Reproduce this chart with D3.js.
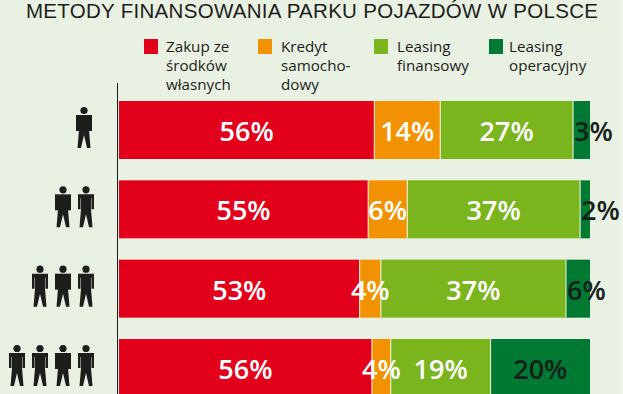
<!DOCTYPE html>
<html lang="pl">
<head>
<meta charset="utf-8">
<title>Metody finansowania parku pojazdów w Polsce</title>
<script src="https://cdn.jsdelivr.net/npm/d3@7"></script>
<style>
html, body { margin: 0; padding: 0; background: #e8f1e2; overflow: hidden; }
svg { display: block; }
</style>
</head>
<body>
<script>
var w = 623, h = 394;

var titleText = "METODY FINANSOWANIA PARKU POJAZDÓW W POLSCE";
var seriesNames = [
    ["Zakup ze", "środków", "własnych"],
    ["Kredyt", "samocho-", "dowy"],
    ["Leasing", "finansowy"],
    ["Leasing", "operacyjny"]
];
var colors = ["#e2001a", "#f39200", "#7ab51d", "#007a33"];
var labelColors = ["#fff", "#fff", "#fff", "#16211c"];

// rows = fleet size shown by the figures (1 = wide jacket, 0 = arms apart)
var rows = ["r1", "r2", "r3", "r4"];
var figures = [[1], [1, 0], [0, 1, 0], [0, 0, 1, 0]];

// bar lengths as measured in the picture (the print is not exactly to scale)
var zakup = [54.2, 52.9, 51.1, 53.7];
var kredyt = [14.0, 8.3, 4.5, 4.0];
var finansowy = [28.2, 36.7, 39.3, 21.2];
var operacyjny = [3.6, 2.1, 5.1, 21.1];

// printed values
var zakupLabels = ["56%", "55%", "53%", "56%"];
var kredytLabels = ["14%", "6%", "4%", "4%"];
var finansowyLabels = ["27%", "37%", "37%", "19%"];
var operacyjnyLabels = ["3%", "2%", "6%", "20%"];

var series = [zakup, kredyt, finansowy, operacyjny];
var labels = [zakupLabels, kredytLabels, finansowyLabels, operacyjnyLabels];

var svg = d3.select("body").append("svg")
    .attr("width", w)
    .attr("height", h);

svg.append("rect").attr("width", w).attr("height", h).attr("fill", "#e8f1e2");
svg.append("rect").attr("x", 619).attr("width", 4).attr("height", h).attr("fill", "#eef5ea");

var xScale = d3.scaleLinear().domain([0, 100]).range([119, 590]);
var yScale = d3.scaleBand().domain(rows).range([101, 397]).paddingInner(0.269);

// title
svg.append("text")
    .attr("x", 26)
    .attr("y", 18)
    .attr("font-family", "Liberation Sans")
    .attr("font-size", 20.5)
    .attr("textLength", 572)
    .attr("fill", "#1d1d1b")
    .text(titleText);

// legend
var legendX = [144, 258, 374, 489];
var legendTextX = [166, 281, 397, 509];

var legend = svg.selectAll(".legend")
    .data(seriesNames)
    .enter()
    .append("g")
    .attr("class", "legend");

legend.append("rect")
    .attr("x", function(d, i) { return legendX[i]; })
    .attr("y", 39)
    .attr("width", 14)
    .attr("height", 15)
    .attr("fill", function(d, i) { return colors[i]; });

legend.each(function(d, i) {
    d3.select(this).selectAll("text")
        .data(d)
        .enter()
        .append("text")
        .attr("x", legendTextX[i])
        .attr("y", function(t, j) { return 52 + j * 19; })
        .attr("font-family", "Open Sans")
        .attr("font-size", 15.2)
        .attr("fill", "#1d1d1b")
        .text(function(t) { return t; });
});

// bars
rows.forEach(function(row, r) {
    var sum = 0;
    series.forEach(function(s, k) {
        var x0 = sum;
        sum += s[r];
        svg.append("rect")
            .attr("x", xScale(x0))
            .attr("y", yScale(row))
            .attr("width", xScale(sum) - xScale(x0))
            .attr("height", yScale.bandwidth())
            .attr("fill", colors[k]);
        if (k > 0) {
            svg.append("line")
                .attr("x1", xScale(x0))
                .attr("x2", xScale(x0))
                .attr("y1", yScale(row))
                .attr("y2", yScale(row) + yScale.bandwidth())
                .attr("stroke", "#f4f8ef")
                .attr("stroke-width", 1);
        }
    });
});

// value labels, drawn after all bars because they overlap neighbours
rows.forEach(function(row, r) {
    var sum = 0;
    series.forEach(function(s, k) {
        var x0 = sum;
        sum += s[r];
        // the narrow dark segments start at the bar edge instead of centred
        var narrow = k == 3 && s[r] < 10;
        svg.append("text")
            .attr("x", narrow ? xScale(x0) + 1 : xScale(x0 + s[r] / 2))
            .attr("y", yScale(row) + 40)
            .attr("text-anchor", narrow ? "start" : "middle")
            .attr("font-family", "Open Sans")
            .attr("font-weight", 600)
            .attr("font-size", 27)
            .attr("fill", labelColors[k])
            .text(labels[k][r]);
    });
});

// vertical rule
svg.append("line")
    .attr("x1", 117.5)
    .attr("x2", 117.5)
    .attr("y1", 83)
    .attr("y2", h)
    .attr("stroke", "#1d1d1b")
    .attr("stroke-width", 1);

// figures
var figureX = d3.scalePoint().domain([0, 1, 2, 3]).range([17, 86]);

function drawFigure(g, wide) {
    g.append("circle").attr("cx", 0).attr("cy", 3.5).attr("r", 3.6);
    if (wide) {
        g.append("rect").attr("x", -8).attr("y", 8).attr("width", 16).attr("height", 16);
    } else {
        g.append("path").attr("d", "M-8,8H8V23H5.5V12H5V24H-5V12H-5.5V23H-8Z");
    }
    g.append("path").attr("d", "M-5,23H5L6.5,41H3L0,28L-3,41H-6.5Z");
}

figures.forEach(function(list, r) {
    var y = yScale(rows[r]) + 6;
    list.forEach(function(wide, i) {
        var pos = 4 - list.length + i;
        var g = svg.append("g")
            .attr("fill", "#1d1d1b")
            .attr("transform", "translate(" + (r == 0 ? 84 : figureX(pos)) + "," + y + ")");
        drawFigure(g, wide);
    });
});
</script>
</body>
</html>
